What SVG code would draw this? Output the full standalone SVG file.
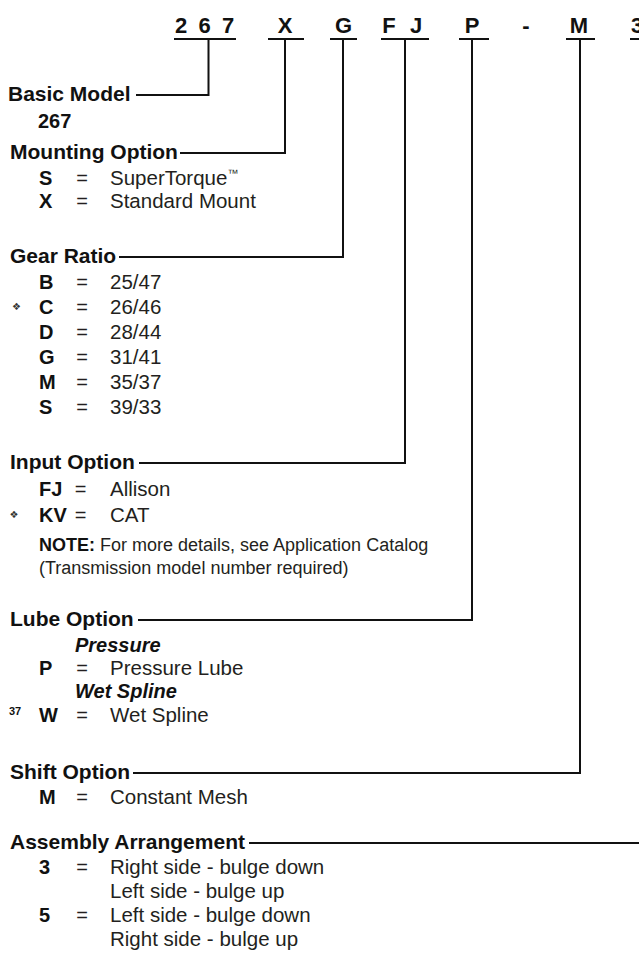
<svg xmlns="http://www.w3.org/2000/svg" width="639" height="962" viewBox="0 0 639 962">
<style>
.hd{font-family:"Liberation Sans",Arial,sans-serif;font-weight:bold;font-size:22px;fill:#111;text-anchor:middle}
.h{font-family:"Liberation Sans",Arial,sans-serif;font-weight:bold;font-size:21px;fill:#111}
.c{font-family:"Liberation Sans",Arial,sans-serif;font-weight:bold;font-size:20px;fill:#111}
.v{font-family:"Liberation Sans",Arial,sans-serif;font-size:20.5px;fill:#231f20}
.eq{font-family:"Liberation Sans",Arial,sans-serif;font-size:20px;fill:#231f20;text-anchor:middle}
.it{font-family:"Liberation Sans",Arial,sans-serif;font-weight:bold;font-style:italic;font-size:20px;fill:#111}
.n{font-family:"Liberation Sans",Arial,sans-serif;font-size:18px;fill:#231f20}
.d{font-family:"DejaVu Sans",sans-serif;font-size:10px;fill:#333;text-anchor:middle}
.sup{font-family:"Liberation Sans",Arial,sans-serif;font-weight:bold;font-size:11px;fill:#111}
.ln{stroke:#111;stroke-width:2;fill:none;stroke-linejoin:miter}
</style>
<rect width="639" height="962" fill="#fff"/>
<g id="header">
<text class="hd" x="181" y="33">2</text>
<text class="hd" x="204.5" y="33">6</text>
<text class="hd" x="228" y="33">7</text>
<text class="hd" x="285" y="33">X</text>
<text class="hd" x="343.5" y="33">G</text>
<text class="hd" x="389" y="33">F</text>
<text class="hd" x="416" y="33">J</text>
<text class="hd" x="472" y="33">P</text>
<text class="hd" x="526" y="33">-</text>
<text class="hd" x="579" y="33">M</text>
<text class="hd" x="631" y="33" style="text-anchor:start">3</text>
</g>
<g id="connectors">
<path class="ln" d="M174 39H236M268 39H304M330 39H357M381 39H429M459 39H489M566 39H595M630 39H639"/>
<path class="ln" d="M208.5 39V95H136"/>
<path class="ln" d="M285 39V153H180"/>
<path class="ln" d="M343 39V257H119"/>
<path class="ln" d="M405 39V463H139"/>
<path class="ln" d="M472 39V620H138"/>
<path class="ln" d="M580 39V773H133"/>
<path class="ln" d="M249 843H639"/>
</g>
<g id="basic-model">
<text class="h" x="8" y="101">Basic Model</text>
<text class="c" x="38" y="128">267</text>
</g>
<g id="mounting-option">
<text class="h" x="10" y="159">Mounting Option</text>
<text class="c" x="39" y="185">S</text><text class="eq" x="82" y="185">=</text>
<text class="v" x="110" y="185">SuperTorque<tspan font-size="11" dy="-8">™</tspan></text>
<text class="c" x="39" y="208">X</text><text class="eq" x="82" y="208">=</text><text class="v" x="110" y="208">Standard Mount</text>
</g>
<g id="gear-ratio">
<text class="h" x="10" y="263">Gear Ratio</text>
<text class="c" x="39" y="289">B</text><text class="eq" x="82" y="289">=</text><text class="v" x="110" y="289">25/47</text>
<text class="d" x="16.5" y="310">❖</text>
<text class="c" x="39" y="314">C</text><text class="eq" x="82" y="314">=</text><text class="v" x="110" y="314">26/46</text>
<text class="c" x="39" y="339">D</text><text class="eq" x="82" y="339">=</text><text class="v" x="110" y="339">28/44</text>
<text class="c" x="39" y="364">G</text><text class="eq" x="82" y="364">=</text><text class="v" x="110" y="364">31/41</text>
<text class="c" x="39" y="389">M</text><text class="eq" x="82" y="389">=</text><text class="v" x="110" y="389">35/37</text>
<text class="c" x="39" y="414">S</text><text class="eq" x="82" y="414">=</text><text class="v" x="110" y="414">39/33</text>
</g>
<g id="input-option">
<text class="h" x="10" y="469">Input Option</text>
<text class="c" x="39" y="496">FJ</text><text class="eq" x="80.5" y="496">=</text><text class="v" x="110" y="496">Allison</text>
<text class="d" x="14" y="518">❖</text>
<text class="c" x="39" y="522">KV</text><text class="eq" x="80.5" y="522">=</text><text class="v" x="110" y="522">CAT</text>
<text class="n" x="39" y="551"><tspan font-weight="bold" fill="#111">NOTE:</tspan> For more details, see Application Catalog</text>
<text class="n" x="39" y="574">(Transmission model number required)</text>
</g>
<g id="lube-option">
<text class="h" x="10" y="626">Lube Option</text>
<text class="it" x="75" y="652">Pressure</text>
<text class="c" x="39" y="675">P</text><text class="eq" x="82" y="675">=</text><text class="v" x="110" y="675">Pressure Lube</text>
<text class="it" x="75" y="698">Wet Spline</text>
<text class="sup" x="9" y="715">37</text>
<text class="c" x="39" y="722">W</text><text class="eq" x="82" y="722">=</text><text class="v" x="110" y="722">Wet Spline</text>
</g>
<g id="shift-option">
<text class="h" x="10" y="779">Shift Option</text>
<text class="c" x="39" y="804">M</text><text class="eq" x="82" y="804">=</text><text class="v" x="110" y="804">Constant Mesh</text>
</g>
<g id="assembly-arrangement">
<text class="h" x="10" y="849">Assembly Arrangement</text>
<text class="c" x="39" y="874">3</text><text class="eq" x="82" y="874">=</text><text class="v" x="110" y="874">Right side - bulge down</text>
<text class="v" x="110" y="898">Left side - bulge up</text>
<text class="c" x="39" y="922">5</text><text class="eq" x="82" y="922">=</text><text class="v" x="110" y="922">Left side - bulge down</text>
<text class="v" x="110" y="946">Right side - bulge up</text>
</g>
</svg>
